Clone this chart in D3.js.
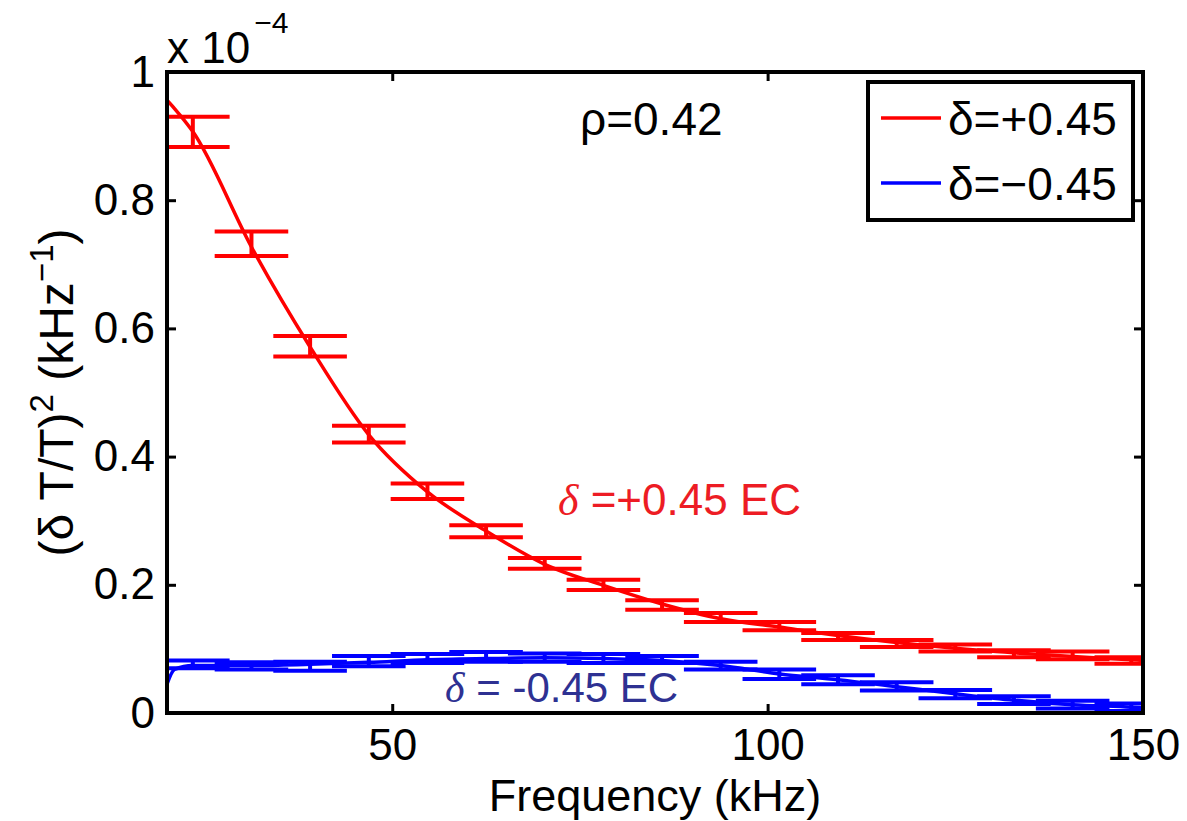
<!DOCTYPE html>
<html>
<head>
<meta charset="utf-8">
<script src="https://cdn.jsdelivr.net/npm/d3@7"></script>
<style>
  body{margin:0;background:#fff;}
  svg{display:block;font-family:"Liberation Sans",Arial,Helvetica,sans-serif;}
</style>
</head>
<body>
<svg></svg>
<script>
// bin centres (kHz), errorbar ends (units of 1e-4 kHz^-1)
var binFreq=[23.44,31.25,39.06,46.88,54.69,62.5,70.31,78.13,85.94,93.75,101.56,109.38,117.19,125,132.81,140.63,148.44];
var redUpper=[0.930,0.751,0.588,0.448,0.358,0.293,0.242,0.208,0.176,0.156,0.142,0.125,0.114,0.107,0.098,0.096,0.087];
var redLower=[0.883,0.713,0.556,0.422,0.334,0.274,0.225,0.192,0.161,0.142,0.129,0.114,0.103,0.096,0.087,0.084,0.077];
var blueUpper=[0.082,0.079,0.080,0.089,0.092,0.095,0.093,0.092,0.089,0.080,0.068,0.059,0.048,0.036,0.026,0.019,0.015];
var blueLower=[0.070,0.068,0.066,0.073,0.078,0.080,0.080,0.078,0.078,0.068,0.053,0.045,0.035,0.023,0.014,0.007,0.003];

// EC curves
var fitFreq=[20,21,23.44,31.25,39.06,46.88,54.69,62.5,70.31,78.13,85.94,93.75,101.56,109.38,117.19,125,132.81,140.63,148.44,150];
var redFit=[0.956,0.943,0.907,0.727,0.571,0.434,0.345,0.284,0.232,0.199,0.170,0.147,0.134,0.121,0.110,0.101,0.094,0.088,0.083,0.082];
var blueFit=[0.045,0.068,0.074,0.074,0.076,0.079,0.083,0.085,0.086,0.085,0.082,0.074,0.061,0.052,0.041,0.030,0.020,0.013,0.009,0.008];

var xTicks=[50,100,150];
var yTicks=[0,0.2,0.4,0.6,0.8,1];

var series=[
  {name:"\u03b4=+0.45",color:"#ff0000",upper:redUpper,lower:redLower,fit:redFit},
  {name:"\u03b4=\u22120.45",color:"#0000ff",upper:blueUpper,lower:blueLower,fit:blueFit}
];

var svgWidth=1187,svgHeight=821;
var margin={top:72,right:44,bottom:108,left:167};
var width=svgWidth-margin.left-margin.right;
var height=svgHeight-margin.top-margin.bottom;
var capHalf=4.9; // kHz

var svg=d3.select('svg').attr('width',svgWidth).attr('height',svgHeight);
var g=svg.append('g').attr('transform','translate('+margin.left+','+margin.top+')');

var x=d3.scaleLinear().domain([20,150]).range([0,width]);
var y=d3.scaleLinear().domain([0,1]).range([height,0]);

g.append('clipPath').attr('id','plotclip')
  .append('rect').attr('width',width).attr('height',height);

var plot=g.append('g').attr('clip-path','url(#plotclip)');

var line=d3.line()
  .x(function(d){return x(d[0])})
  .y(function(d){return y(d[1])})
  .curve(d3.curveMonotoneX);

series.forEach(function(s){
  var pts=binFreq.map(function(f,i){return {f:f,hi:s.upper[i],lo:s.lower[i]}});
  var eb=plot.append('g').attr('stroke',s.color).attr('stroke-width',4).attr('fill','none');
  eb.selectAll('.v').data(pts).enter().append('line')
    .attr('x1',function(d){return x(d.f)}).attr('x2',function(d){return x(d.f)})
    .attr('y1',function(d){return y(d.lo)}).attr('y2',function(d){return y(d.hi)});
  eb.selectAll('.ct').data(pts).enter().append('line')
    .attr('x1',function(d){return x(d.f-capHalf)}).attr('x2',function(d){return x(d.f+capHalf)})
    .attr('y1',function(d){return y(d.hi)}).attr('y2',function(d){return y(d.hi)});
  eb.selectAll('.cb').data(pts).enter().append('line')
    .attr('x1',function(d){return x(d.f-capHalf)}).attr('x2',function(d){return x(d.f+capHalf)})
    .attr('y1',function(d){return y(d.lo)}).attr('y2',function(d){return y(d.lo)});
  plot.append('path')
    .datum(fitFreq.map(function(f,i){return [f,s.fit[i]]}))
    .attr('fill','none').attr('stroke',s.color).attr('stroke-width',3.5)
    .attr('stroke-linejoin','round')
    .attr('d',line);
});

// axes
function fmt(d){return String(d)}
var ax=[
  g.append('g').attr('transform','translate(0,'+height+')').call(d3.axisBottom(x).tickValues(xTicks).tickSize(-9).tickPadding(16).tickFormat(fmt)),
  g.append('g').call(d3.axisTop(x).tickValues(xTicks).tickSize(-9).tickFormat('')),
  g.append('g').call(d3.axisLeft(y).tickValues(yTicks).tickSize(-9).tickPadding(12).tickFormat(fmt)),
  g.append('g').attr('transform','translate('+width+',0)').call(d3.axisRight(y).tickValues(yTicks).tickSize(-9).tickFormat(''))
];
ax.forEach(function(a){
  a.select('.domain').remove();
  a.selectAll('line').attr('stroke','#000').attr('stroke-width',3);
  a.selectAll('text').attr('font-size',44).attr('fill','#000').attr('font-family','"Liberation Sans",Arial,sans-serif');
});
g.append('rect').attr('width',width).attr('height',height)
  .attr('fill','none').attr('stroke','#000').attr('stroke-width',4);

// exponent
var ex=svg.append('text').attr('x',167).attr('y',63).attr('font-size',44);
ex.append('tspan').text('x 10');
ex.append('tspan').attr('font-size',30).attr('dy',-30).attr('dx',4).text('\u22124');

// labels
svg.append('text').attr('x',margin.left+width/2).attr('y',811)
  .attr('text-anchor','middle').attr('font-size',45).text('Frequency (kHz)');

var yl=svg.append('text').attr('transform','translate(73,'+(margin.top+height/2)+') rotate(-90)')
  .attr('text-anchor','middle').attr('font-size',48);
yl.append('tspan').text('(\u03b4 T/T)');
yl.append('tspan').attr('font-size',33).attr('dy',-20).text('2');
yl.append('tspan').attr('dy',20).text(' (kHz');
yl.append('tspan').attr('font-size',33).attr('dy',-20).text('\u22121');
yl.append('tspan').attr('dy',20).text(')');

svg.append('text').attr('x',580).attr('y',135).attr('font-size',46).text('\u03c1=0.42');

var t1=svg.append('text').attr('x',558).attr('y',515).attr('font-size',44).attr('fill','#ed1c24');
t1.append('tspan').attr('font-family','"Liberation Serif",serif').attr('font-style','italic').text('\u03b4');
t1.append('tspan').text(' =+0.45 EC');

var t2=svg.append('text').attr('x',445).attr('y',702).attr('font-size',42).attr('fill','#2e3192');
t2.append('tspan').attr('font-family','"Liberation Serif",serif').attr('font-style','italic').text('\u03b4');
t2.append('tspan').text(' = -0.45 EC');

// legend
var lg=svg.append('g').attr('transform','translate(868,82)');
lg.append('rect').attr('width',265).attr('height',138)
  .attr('fill','#fff').attr('stroke','#000').attr('stroke-width',4);
var li=lg.selectAll('.item').data(series).enter().append('g')
  .attr('transform',function(d,i){return 'translate(0,'+(36+i*65)+')'});
li.append('line').attr('x1',13).attr('x2',73)
  .attr('stroke',function(d){return d.color}).attr('stroke-width',3.5);
li.append('text').attr('x',80).attr('y',17).attr('font-size',46).text(function(d){return d.name});
</script>
</body>
</html>
